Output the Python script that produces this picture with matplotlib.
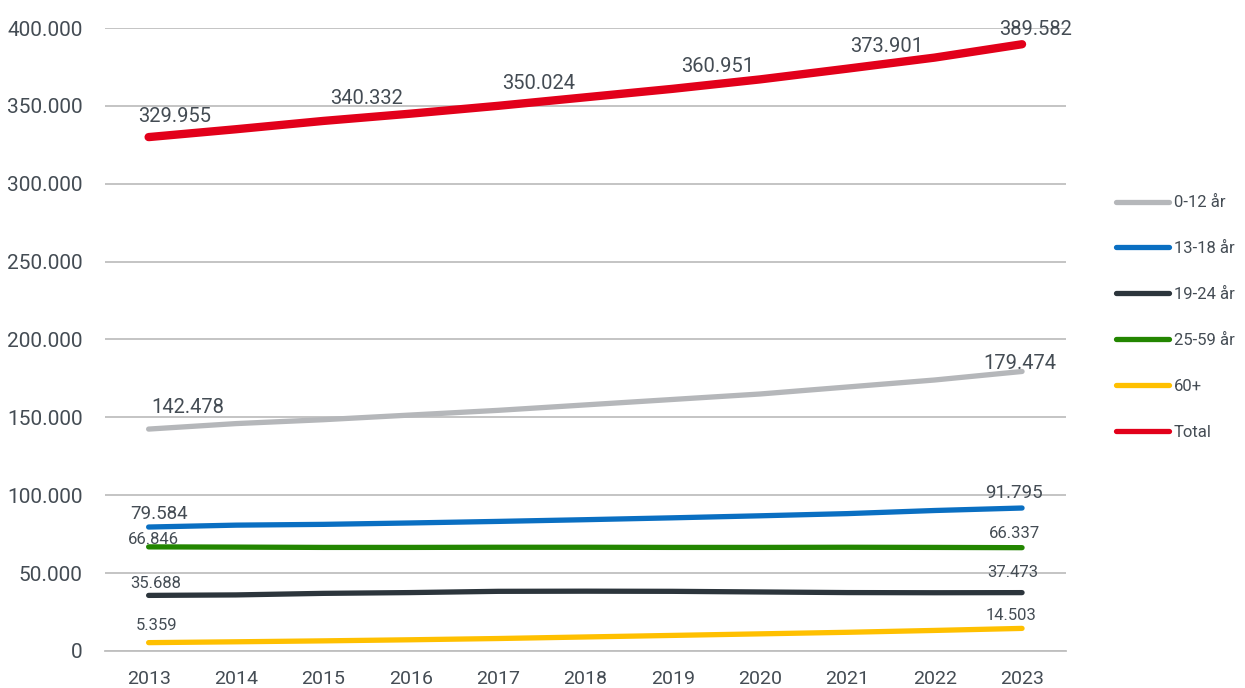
import matplotlib.pyplot as plt
from matplotlib.ticker import FuncFormatter

# ---------- Data ----------
years = list(range(2013, 2024))

age_0_12 = [142478, 146000, 148500, 151500, 154500, 158000, 161500, 165000, 169500, 174000, 179474]
age_13_18 = [79584, 80800, 81300, 82200, 83200, 84300, 85500, 86800, 88200, 90200, 91795]
age_19_24 = [35688, 36000, 37000, 37500, 38300, 38400, 38300, 37900, 37500, 37400, 37473]
age_25_59 = [66846, 66700, 66500, 66500, 66600, 66600, 66500, 66500, 66600, 66500, 66337]
age_60 = [5359, 5900, 6500, 7200, 8000, 9000, 10000, 11000, 12000, 13200, 14503]
total = [329955, 335000, 340332, 345000, 350024, 355500, 360951, 367000, 373901, 381000, 389582]

series_names = ["0-12 år", "13-18 år", "19-24 år", "25-59 år", "60+", "Total"]
series_values = [age_0_12, age_13_18, age_19_24, age_25_59, age_60, total]

# which year indexes get a value label
label_idx = {
    "0-12 år": [0, 10],
    "13-18 år": [0, 10],
    "19-24 år": [0, 10],
    "25-59 år": [0, 10],
    "60+": [0, 10],
    "Total": [0, 2, 4, 6, 8, 10],
}

# ---------- Styling ----------
colors = {
    "0-12 år": "#b5b7ba",
    "13-18 år": "#0a6fc2",
    "19-24 år": "#2c353c",
    "25-59 år": "#238600",
    "60+": "#ffc000",
    "Total": "#e2001a",
}
widths = {"Total": 6.0}
TEXT = "#444c54"

# label offsets in pixels (dx, dy up)
offsets = {
    "0-12 år": [(39, 22), (-2, 8)],
    "13-18 år": [(10, 13), (-8, 15)],
    "19-24 år": [(7, 12), (-9, 20)],
    "25-59 år": [(5, 7), (-8, 14)],
    "60+": [(8, 17), (-11, 13)],
    "Total": [(26, 21), (43, 22), (41, 22), (45, 22), (39, 22), (14, 15)],
}
label_size = {"Total": 14.5, "0-12 år": 14.5, "13-18 år": 13.5, "19-24 år": 12,
              "25-59 år": 12, "60+": 12}

plt.rcParams["font.family"] = ["Roboto", "DejaVu Sans"]


def dotted(v, _pos=None):
    return f"{int(round(v)):,}".replace(",", ".")


fig = plt.figure(figsize=(12.45, 6.88), dpi=100)
ax = fig.add_axes([0.0843, 0.0538, 0.7717, 0.9055])

for name, vals in zip(series_names, series_values):
    ax.plot(years, vals, color=colors[name], lw=widths.get(name, 3.8),
            solid_capstyle="round", label=name, zorder=3)
    for k, i in enumerate(label_idx[name]):
        dx, dy = offsets[name][k]
        ax.annotate(dotted(vals[i]), (years[i], vals[i]),
                    xytext=(dx * 0.72, dy * 0.72), textcoords="offset points",
                    ha="center", va="center", fontsize=label_size[name],
                    color=TEXT, zorder=4)

ax.set_xlim(2012.5, 2023.5)
ax.set_ylim(0, 400000)
ax.set_yticks(range(0, 400001, 50000))
ax.yaxis.set_major_formatter(FuncFormatter(dotted))
ax.set_xticks(years)
ax.grid(axis="y", color="#bfbfbf", lw=1.3, zorder=0)
ax.tick_params(axis="x", length=0, labelsize=14, colors=TEXT, pad=14)
ax.tick_params(axis="y", length=0, labelsize=15, colors=TEXT, pad=16)
for s in ["top", "right", "left"]:
    ax.spines[s].set_visible(False)
ax.spines["bottom"].set_color("#bfbfbf")
ax.spines["bottom"].set_linewidth(1.3)

leg = fig.legend(loc="upper left", bbox_to_anchor=(0.896, 0.716), frameon=False,
                 fontsize=12, handlelength=3.2, handletextpad=0.3,
                 labelspacing=1.85, labelcolor=TEXT, borderpad=0,
                 borderaxespad=0)
for h in leg.get_lines():
    h.set_linewidth(3.8)
    h.set_solid_capstyle("round")

fig.savefig("out.png", dpi=100)
